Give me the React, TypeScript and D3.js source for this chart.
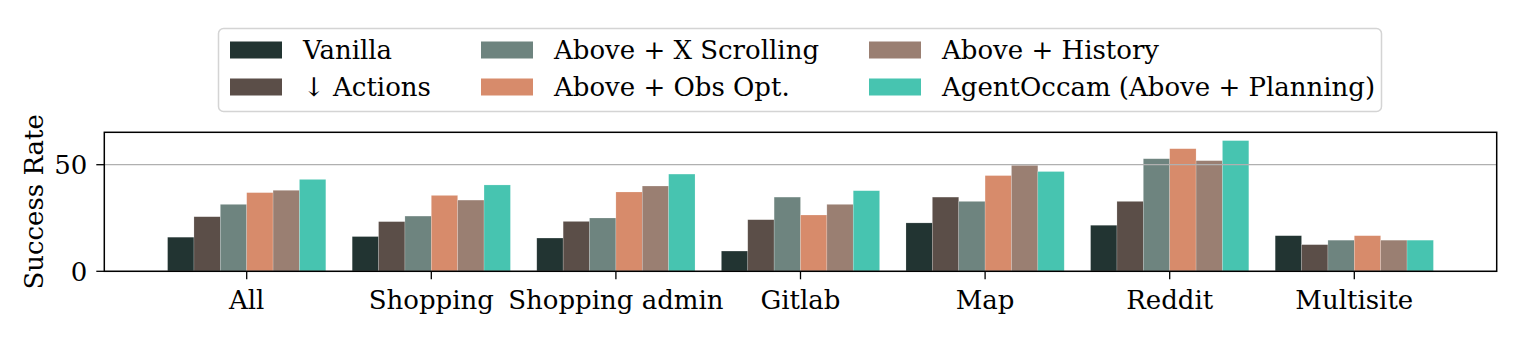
import React from "react";
import * as d3 from "d3";

// values (success rate, %)
const categories = ["All", "Shopping", "Shopping admin", "Gitlab", "Map", "Reddit", "Multisite"];
const seriesNames = [
  "Vanilla",
  "\u2193 Actions",
  "Above + X Scrolling",
  "Above + Obs Opt.",
  "Above + History",
  "AgentOccam (Above + Planning)",
];
const vanilla = [16.0, 16.3, 15.6, 9.5, 22.7, 21.6, 16.7];
const actions = [25.6, 23.3, 23.4, 24.2, 34.8, 32.8, 12.5];
const xScrolling = [31.4, 25.9, 25.0, 34.8, 32.8, 52.8, 14.6];
const obsOpt = [36.9, 35.6, 37.2, 26.4, 44.9, 57.5, 16.7];
const history = [38.0, 33.4, 40.0, 31.4, 49.7, 51.9, 14.6];
const agentOccam = [43.1, 40.5, 45.6, 37.8, 46.8, 61.3, 14.6];
const yTicks = [0, 50];

const colors = ["#223432", "#5b4e48", "#6e847f", "#d78b6b", "#9a7f72", "#47c4b0"];

const width = 1522;
const height = 338;
const plot = { left: 104.3, right: 1496.7, top: 132.3, bottom: 271.3 };
const font = "'DejaVu Serif', serif";

export default function App() {
  const allSeries = [vanilla, actions, xScrolling, obsOpt, history, agentOccam];
  const n = allSeries.length;
  const barW = 1 / (n + 1);
  const half = (n * barW) / 2;
  const pad = (categories.length - 1 + 2 * half) * 0.05;

  const x = d3.scaleLinear()
    .domain([-half - pad, categories.length - 1 + half + pad])
    .range([plot.left, plot.right]);
  const y = d3.scaleLinear().domain([0, 65.2]).range([plot.bottom, plot.top]);
  const bw = x(barW) - x(0);

  // legend layout
  const legend = { x: 218.5, y: 28.5, w: 1163, h: 83 };
  const colX = [230, 481, 869];
  const rowY = [50, 87];

  return (
    <svg
      width={width}
      height={height}
      style={{ position: "absolute", left: 0, top: 0, background: "#fff" }}
      fontFamily={font}
    >
      {/* bars */}
      {allSeries.map((vals, j) => (
        <g key={j} fill={colors[j]}>
          {vals.map((v, i) => {
            const x0 = x(i - half + j * barW);
            return (
              <rect
                key={i}
                x={x0}
                y={y(v)}
                width={bw}
                height={y(0) - y(v)}
                stroke="#ffffff"
                strokeOpacity={0.3}
                strokeWidth={0.6}
              />
            );
          })}
        </g>
      ))}

      {/* grid, drawn over the bars as in the reference */}
      {yTicks.map(t => (
        <line key={"g" + t} x1={plot.left} x2={plot.right} y1={y(t)} y2={y(t)} stroke="#b0b0b0" strokeWidth={1.3} />
      ))}

      {/* frame */}
      <rect
        x={plot.left}
        y={plot.top}
        width={plot.right - plot.left}
        height={plot.bottom - plot.top}
        fill="none"
        stroke="#000"
        strokeWidth={1.5}
      />

      {/* y axis */}
      {yTicks.map(t => (
        <g key={"y" + t}>
          <line x1={plot.left - 8} x2={plot.left} y1={y(t)} y2={y(t)} stroke="#000" strokeWidth={1.3} />
          <text x={plot.left - 17} y={y(t)} dy="0.36em" textAnchor="end" fontSize={26} fill="#000">
            {t}
          </text>
        </g>
      ))}
      <text
        transform={`translate(43,${(plot.top + plot.bottom) / 2}) rotate(-90)`}
        textAnchor="middle"
        fontSize={26}
        fill="#000"
      >
        Success Rate
      </text>

      {/* x axis */}
      {categories.map((c, i) => (
        <g key={c}>
          <line x1={x(i)} x2={x(i)} y1={plot.bottom} y2={plot.bottom + 8} stroke="#000" strokeWidth={1.3} />
          <text x={x(i)} y={309} textAnchor="middle" fontSize={26} fill="#000">
            {c}
          </text>
        </g>
      ))}

      {/* legend */}
      <rect x={legend.x} y={legend.y} width={legend.w} height={legend.h} rx={5} fill="#fff" fillOpacity={0.8} stroke="#d4d4d4" strokeWidth={1.5} />
      {seriesNames.map((name, k) => {
        const col = Math.floor(k / 2);
        const row = k % 2;
        return (
          <g key={name}>
            <rect x={colX[col]} y={rowY[row] - 8.5} width={52} height={17} fill={colors[k]} />
            <text x={colX[col] + 73} y={rowY[row]} dy="0.36em" fontSize={26} fill="#000">
              {name}
            </text>
          </g>
        );
      })}
    </svg>
  );
}
